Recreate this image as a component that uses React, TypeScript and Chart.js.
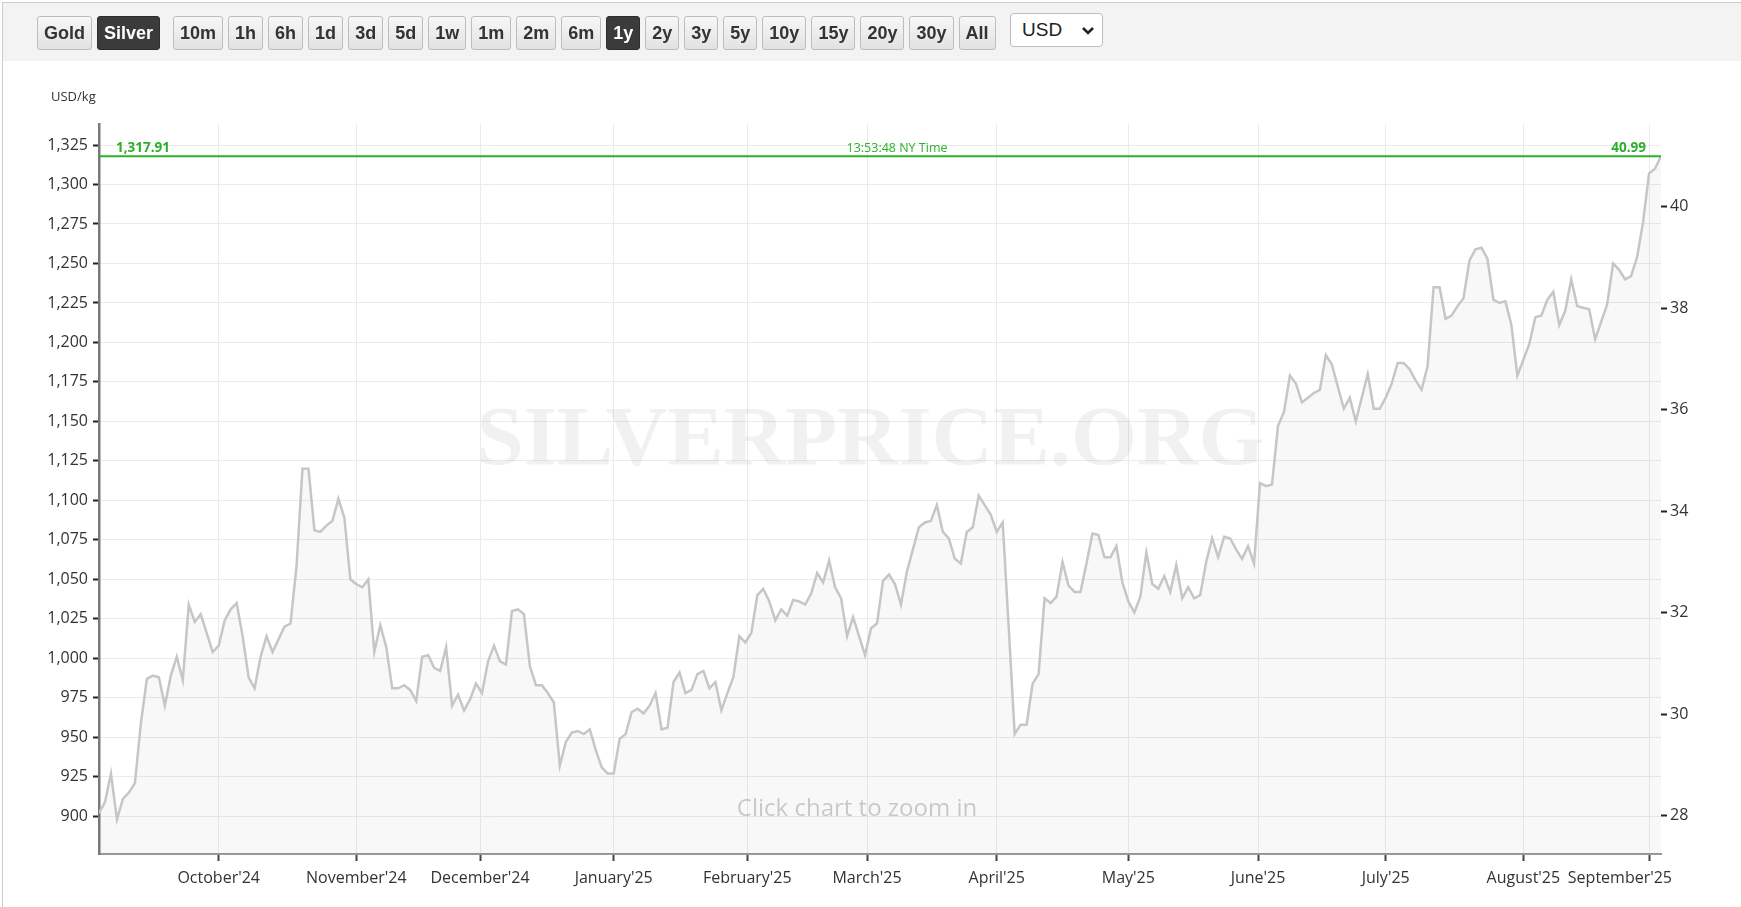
import React, { useEffect, useRef } from "react";
import { Chart, registerables } from "chart.js";

Chart.register(...registerables);

// ---------------- data ----------------
const OZ_PER_KG = 32.1507466;
const seriesStartDate = "2024-09-03"; // first weekday in the series
const unitLabel = "USD/kg";
const quoteTime = "13:53:48 NY Time";
const watermarkText = "SILVERPRICE.ORG";
const zoomHint = "Click chart to zoom in";

// daily (weekday) silver prices in USD/kg, one array per month
const sep24 = [902, 909, 927, 898, 911, 915, 921, 959, 987, 989, 988, 970, 989, 1001, 986, 1034, 1023, 1028, 1016, 1004];
const oct24 = [1008, 1024, 1031, 1035, 1014, 988, 981, 1001, 1014, 1004, 1012, 1020, 1022, 1058, 1120, 1120, 1081, 1080, 1084, 1087, 1101, 1089, 1050];
const nov24 = [1047, 1045, 1050, 1004, 1021, 1007, 981, 981, 983, 980, 973, 1001, 1002, 994, 992, 1007, 970, 977, 967, 974, 984];
const dec24 = [978, 998, 1008, 998, 996, 1030, 1031, 1028, 995, 983, 983, 978, 972, 932, 947, 953, 954, 952, 955, 942, 931, 927];
const jan25 = [927, 949, 952, 966, 968, 965, 970, 978, 955, 956, 985, 991, 978, 980, 990, 992, 981, 985, 967, 978, 988, 1014, 1010];
const feb25 = [1016, 1040, 1044, 1036, 1024, 1031, 1027, 1037, 1036, 1034, 1041, 1054, 1048, 1062, 1045, 1038, 1014, 1026, 1014, 1002];
const mar25 = [1019, 1022, 1049, 1053, 1047, 1034, 1055, 1069, 1083, 1086, 1087, 1097, 1080, 1076, 1063, 1060, 1080, 1083, 1103, 1097, 1091];
const apr25 = [1080, 1086, 1020, 952, 958, 958, 984, 990, 1038, 1035, 1039, 1061, 1046, 1042, 1042, 1060, 1079, 1078, 1064, 1064, 1071, 1048];
const may25 = [1036, 1029, 1039, 1067, 1047, 1044, 1052, 1042, 1059, 1038, 1045, 1038, 1040, 1061, 1076, 1064, 1077, 1076, 1069, 1063, 1071, 1060];
const jun25 = [1111, 1109, 1110, 1147, 1156, 1179, 1174, 1162, 1165, 1168, 1170, 1192, 1186, 1172, 1158, 1165, 1150, 1165, 1180, 1158, 1158];
const jul25 = [1165, 1174, 1187, 1187, 1183, 1176, 1170, 1185, 1235, 1235, 1215, 1217, 1223, 1228, 1252, 1259, 1260, 1253, 1227, 1225, 1226, 1211, 1179];
const aug25 = [1189, 1199, 1216, 1217, 1227, 1232, 1211, 1220, 1240, 1223, 1222, 1221, 1202, 1213, 1224, 1250, 1246, 1240, 1242, 1254, 1276];
const sep25 = [1307, 1310, 1317.91];

const monthTickDates = [
  "2024-10-01", "2024-11-01", "2024-12-01", "2025-01-01", "2025-02-01", "2025-03-01",
  "2025-04-01", "2025-05-01", "2025-06-01", "2025-07-01", "2025-08-01", "2025-09-01",
];
const monthTickLabels = [
  "October'24", "November'24", "December'24", "January'25", "February'25", "March'25",
  "April'25", "May'25", "June'25", "July'25", "August'25", "September'25",
];
const leftTicks = [900, 925, 950, 975, 1000, 1025, 1050, 1075, 1100, 1125, 1150, 1175, 1200, 1225, 1250, 1275, 1300, 1325];
const rightTicks = [28, 30, 32, 34, 36, 38, 40];
const yMin = 876.1;
const yMax = 1338.3;

const metalButtons = ["Gold", "Silver"];
const rangeButtons = ["10m", "1h", "6h", "1d", "3d", "5d", "1w", "1m", "2m", "6m", "1y", "2y", "3y", "5y", "10y", "15y", "20y", "30y", "All"];
const selectedMetal = "Silver";
const selectedRange = "1y";
const currency = "USD";

// ---------------- derived ----------------
const values: number[] = [sep24, oct24, nov24, dec24, jan25, feb25, mar25, apr25, may25, jun25, jul25, aug25, sep25].flat();

const dates: number[] = (() => {
  const out: number[] = [];
  let t = Date.parse(seriesStartDate + "T00:00:00Z");
  while (out.length < values.length) {
    const d = new Date(t).getUTCDay();
    if (d !== 0 && d !== 6) out.push(t);
    t += 86400000;
  }
  return out;
})();

function ordinalOf(dateStr: string): number {
  const t = Date.parse(dateStr + "T00:00:00Z");
  for (let i = 0; i < dates.length - 1; i++) {
    if (t >= dates[i] && t < dates[i + 1]) return i + (t - dates[i]) / (dates[i + 1] - dates[i]);
  }
  return dates.length - 1;
}
const monthTickValues = monthTickDates.map(ordinalOf);
const lastValue = values[values.length - 1];

const GREEN = "#2cb02c";

const overlayPlugin = {
  id: "overlay",
  beforeDatasetsDraw(chart: any) {
    const { ctx, chartArea } = chart;
    ctx.save();
    ctx.font = 'bold 85px "Liberation Serif", "DejaVu Serif", serif';
    ctx.fillStyle = "rgba(0,0,0,0.055)";
    ctx.textAlign = "center";
    ctx.textBaseline = "alphabetic";
    ctx.fillText(watermarkText, chart.width / 2, chartArea.top + 341);
    ctx.restore();
  },
  afterDatasetsDraw(chart: any) {
    const { ctx, chartArea, scales } = chart;
    const y = scales.y.getPixelForValue(lastValue);
    ctx.save();
    ctx.strokeStyle = GREEN;
    ctx.lineWidth = 2;
    ctx.beginPath();
    ctx.moveTo(chartArea.left, y);
    ctx.lineTo(chartArea.right, y);
    ctx.stroke();

    ctx.fillStyle = GREEN;
    ctx.textBaseline = "alphabetic";
    ctx.font = 'bold 13.5px "Open Sans", sans-serif';
    ctx.textAlign = "left";
    ctx.fillText(
      lastValue.toLocaleString("en-US", { minimumFractionDigits: 2, maximumFractionDigits: 2 }),
      chartArea.left + 17,
      y - 4
    );
    ctx.textAlign = "right";
    ctx.fillText((lastValue / OZ_PER_KG).toFixed(2), chartArea.right - 15, y - 4);
    ctx.font = '12.5px "Open Sans", sans-serif';
    ctx.textAlign = "center";
    ctx.fillText(quoteTime, (chartArea.left + chartArea.right) / 2 + 17, y - 4);

    ctx.font = '24px "Open Sans", sans-serif';
    ctx.fillStyle = "rgba(0,0,0,0.2)";
    ctx.textAlign = "center";
    ctx.fillText(zoomHint, (chartArea.left + chartArea.right) / 2 - 23, chartArea.bottom - 38);
    ctx.restore();
  },
  afterDraw(chart: any) {
    const { ctx, chartArea, scales } = chart;
    ctx.save();
    ctx.font = '16px "Open Sans", sans-serif';
    ctx.fillStyle = "#333";
    ctx.textBaseline = "alphabetic";
    ctx.textAlign = "left";
    monthTickValues.forEach((v, k) => {
      const label = monthTickLabels[k];
      const w = ctx.measureText(label).width;
      const px = scales.x.getPixelForValue(v);
      let left = px - w / 2;
      if (left + w > chartArea.right + 11) left = chartArea.right + 11 - w;
      ctx.fillText(label, left, chartArea.bottom + 29);
    });
    ctx.font = '13px "Open Sans", sans-serif';
    ctx.fillStyle = "#333";
    ctx.fillText(unitLabel, 51, chartArea.top - 23);
    ctx.restore();
  },
};

function ChartCanvas() {
  const ref = useRef<HTMLCanvasElement | null>(null);
  useEffect(() => {
    if (!ref.current) return;
    Chart.defaults.font.family = '"Open Sans", sans-serif';
    const chart = new Chart(ref.current, {
      type: "line",
      data: {
        datasets: [
          {
            data: values.map((v, i) => ({ x: i, y: v })),
            borderColor: "#c6c6c6",
            borderWidth: 2.5,
            backgroundColor: "rgba(0,0,0,0.028)",
            fill: "start",
            pointRadius: 0,
            tension: 0,
            xAxisID: "x",
            yAxisID: "y",
          },
        ],
      },
      options: {
        animation: false,
        responsive: false,
        devicePixelRatio: 1,
        events: [],
        layout: { padding: { top: 124, left: 0, right: 0, bottom: 0 } },
        plugins: { legend: { display: false }, tooltip: { enabled: false } },
        scales: {
          x: {
            type: "linear",
            min: 0,
            max: values.length - 1,
            afterBuildTicks: (s: any) => {
              s.ticks = monthTickValues.map((v) => ({ value: v }));
            },
            afterFit: (s: any) => {
              s.height = 53;
            },
            grid: { color: "#ebebeb", lineWidth: 1, tickColor: "#444", tickWidth: 2, tickLength: 7 },
            border: { color: "#9a9a9a", width: 2 },
            ticks: { display: false },
          },
          y: {
            position: "left",
            min: yMin,
            max: yMax,
            afterBuildTicks: (s: any) => {
              s.ticks = leftTicks.map((v) => ({ value: v }));
            },
            afterFit: (s: any) => {
              s.width = 99;
            },
            grid: { color: "#ebebeb", lineWidth: 1, tickColor: "#222", tickWidth: 2, tickLength: 6 },
            border: { color: "#7a7a7a", width: 2.5 },
            ticks: {
              color: "#333",
              padding: 5,
              font: { family: '"Open Sans", sans-serif', size: 16 },
              callback: (v: any) => Number(v).toLocaleString("en-US"),
            },
          },
          y2: {
            position: "right",
            min: yMin / OZ_PER_KG,
            max: yMax / OZ_PER_KG,
            afterBuildTicks: (s: any) => {
              s.ticks = rightTicks.map((v) => ({ value: v }));
            },
            afterFit: (s: any) => {
              s.width = 80;
            },
            grid: { drawOnChartArea: false, tickColor: "#222", tickWidth: 2, tickLength: 6 },
            border: { display: false },
            ticks: {
              color: "#333",
              padding: 3,
              font: { family: '"Open Sans", sans-serif', size: 16 },
              callback: (v: any) => String(v),
            },
          },
        },
      },
      plugins: [overlayPlugin],
    } as any);
    return () => chart.destroy();
  }, []);
  return <canvas ref={ref} width={1741} height={907} style={{ position: "absolute", left: 0, top: 0, width: 1741, height: 907 }} />;
}

function Btn({ label, active, ml }: { label: string; active: boolean; ml: number }) {
  return (
    <div
      style={{
        marginLeft: ml,
        height: 34,
        boxSizing: "border-box",
        padding: "0 6px",
        display: "flex",
        alignItems: "center",
        justifyContent: "center",
        borderRadius: 3,
        border: active ? "1px solid #2e2e2e" : "1px solid #bdbdbd",
        background: active ? "#3b3b3b" : "linear-gradient(to bottom, #f7f7f7, #e2e2e2)",
        color: active ? "#fff" : "#333",
        fontFamily: '"Liberation Sans", Arial, sans-serif',
        fontWeight: 700,
        fontSize: 18,
        whiteSpace: "nowrap",
      }}
    >
      {label}
    </div>
  );
}

export default function App() {
  return (
    <div style={{ position: "fixed", left: 0, top: 0, width: 1741, height: 907, background: "#fff", overflow: "hidden" }}>
      <div style={{ position: "absolute", left: 2, top: 2, width: 1760, height: 920, border: "1px solid #cdcdcd", boxSizing: "border-box" }} />
      <div style={{ position: "absolute", left: 3, top: 3, width: 1738, height: 58, background: "#f3f3f3" }} />
      <ChartCanvas />
      <div style={{ position: "absolute", left: 37, top: 16, display: "flex", alignItems: "center" }}>
        {metalButtons.map((b, i) => (
          <Btn key={b} label={b} active={b === selectedMetal} ml={i === 0 ? 0 : 5} />
        ))}
        {rangeButtons.map((b, i) => (
          <Btn key={b} label={b} active={b === selectedRange} ml={i === 0 ? 13 : 5} />
        ))}
      </div>
      <div
        style={{
          position: "absolute",
          left: 1010,
          top: 13,
          width: 93,
          height: 34,
          boxSizing: "border-box",
          border: "1px solid #bdbdbd",
          borderRadius: 4,
          background: "#fff",
          display: "flex",
          alignItems: "center",
          paddingLeft: 11,
          fontFamily: '"Liberation Sans", Arial, sans-serif',
          fontSize: 19,
          color: "#222",
        }}
      >
        {currency}
        <svg width="14" height="10" viewBox="0 0 14 10" style={{ position: "absolute", left: 70, top: 12 }}>
          <polyline points="2,2 7,7 12,2" fill="none" stroke="#222" strokeWidth="2.6" />
        </svg>
      </div>
    </div>
  );
}
